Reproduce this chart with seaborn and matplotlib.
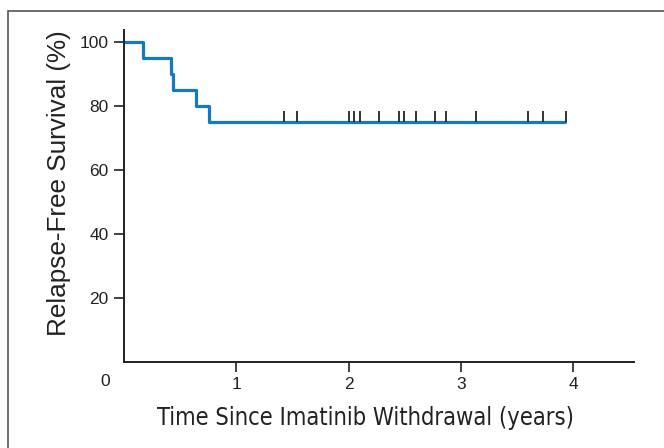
import matplotlib
matplotlib.use("Agg")
import numpy as np
import pandas as pd
import seaborn as sns
import matplotlib.pyplot as plt
from matplotlib.patches import Rectangle

# Kaplan-Meier step curve (years, % relapse-free)
times = [0.0, 0.165, 0.422, 0.44, 0.64, 0.76, 3.93]
survival = [100, 95, 90, 85, 80, 75, 75]

# censored patients (years)
censor_times = [1.427, 1.54, 2.007, 2.046, 2.105, 2.274, 2.449, 2.491,
                2.597, 2.769, 2.869, 3.133, 3.593, 3.729, 3.933]
censor_level = 75

x_ticks = [1, 2, 3, 4]
y_ticks = [20, 40, 60, 80, 100]

sns.set_style("white")
plt.rcParams['font.family'] = ['Liberation Sans', 'DejaVu Sans']

df = pd.DataFrame({'Time': times, 'Survival': survival})

fig = plt.figure(figsize=(6.64, 4.48), dpi=100)
ax = fig.add_axes([124 / 664, 1 - 362 / 448, 510 / 664, 332 / 448])

# outer frame
fig.patches.append(Rectangle((8 / 664, -0.1), 1.1, 1 - 11 / 448 + 0.1,
                             transform=fig.transFigure, fill=False,
                             edgecolor='#555555', linewidth=1.2))

sns.lineplot(data=df, x='Time', y='Survival', drawstyle='steps-post',
             color='#1479c0', linewidth=2.3, ax=ax, legend=False)
ax.vlines(censor_times, censor_level, censor_level + 3.5,
          color='#222222', linewidth=1.3, zorder=3)

ax.set_xlim(0, 4.54)
ax.set_ylim(0, 103.75)
ax.set_xticks(x_ticks)
ax.set_yticks(y_ticks)
ax.tick_params(axis='both', length=7, width=1.2, color='#222222',
               labelsize=12.5, labelcolor='#222222', pad=4, direction='out')
ax.tick_params(axis='both', which='both', bottom=True, left=True)
for side in ['top', 'right']:
    ax.spines[side].set_visible(False)
for side in ['left', 'bottom']:
    ax.spines[side].set_color('#222222')
    ax.spines[side].set_linewidth(1.4)

fig.text(105 / 664, 1 - 382 / 448, "0", ha='center', va='center',
         fontsize=12.5, color='#222222')

ax.set_ylabel("Relapse-Free Survival (%)", fontsize=18.8, color='#222222')
ax.yaxis.set_label_coords(-0.104, 0.538)
ax.set_xlabel("Time Since Imatinib Withdrawal (years)", fontsize=17,
              color='#222222', labelpad=10,
              family='DejaVu Sans', fontstretch='condensed')
ax.xaxis.label.set_x(0.4735)

fig.savefig("out.png", dpi=100)
